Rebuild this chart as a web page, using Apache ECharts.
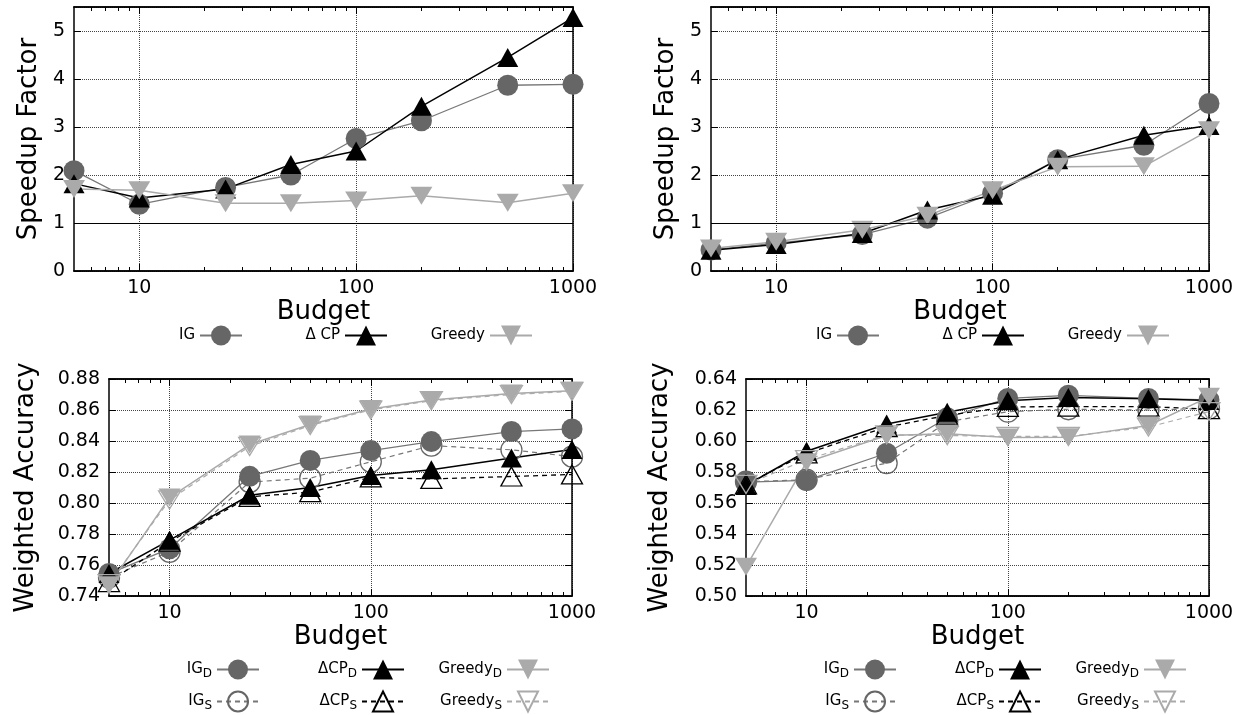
<!DOCTYPE html>
<html><head><meta charset="utf-8">
<script src="https://cdn.jsdelivr.net/npm/echarts@6/dist/echarts.min.js"></script>
<style>html,body{margin:0;padding:0;background:#fff}#c{width:1241px;height:715px}</style>
</head><body><div id="c"></div><script>
// ---------- data ----------
const budgets = [5, 10, 25, 50, 100, 200, 500, 1000];
const xTickLabels = [10, 100, 1000];
const xMinorTicks = [6, 7, 8, 9, 20, 30, 40, 50, 60, 70, 80, 90, 200, 300, 400, 500, 600, 700, 800, 900];

// top-left: speedup factor
const speedLeftIG     = [2.09, 1.39, 1.74, 2.00, 2.76, 3.13, 3.87, 3.89];
const speedLeftCP     = [1.82, 1.52, 1.71, 2.22, 2.50, 3.43, 4.45, 5.28];
const speedLeftGreedy = [1.71, 1.68, 1.41, 1.41, 1.47, 1.57, 1.42, 1.62];

// top-right: speedup factor
const speedRightIG     = [0.44, 0.58, 0.76, 1.10, 1.62, 2.32, 2.62, 3.49];
const speedRightCP     = [0.43, 0.55, 0.78, 1.27, 1.58, 2.32, 2.83, 3.03];
const speedRightGreedy = [0.47, 0.61, 0.86, 1.15, 1.68, 2.17, 2.18, 2.93];

// bottom-left: weighted accuracy
const accLeftIGD     = [0.7545, 0.7705, 0.8172, 0.8275, 0.8338, 0.8396, 0.8461, 0.8478];
const accLeftIGS     = [0.7520, 0.7685, 0.8135, 0.8160, 0.8266, 0.8370, 0.8343, 0.8299];
const accLeftCPD     = [0.7545, 0.7760, 0.8050, 0.8100, 0.8178, 0.8214, 0.8291, 0.8345];
const accLeftCPS     = [0.7490, 0.7750, 0.8040, 0.8070, 0.8165, 0.8155, 0.8171, 0.8184];
const accLeftGreedyD = [0.7470, 0.8035, 0.8377, 0.8506, 0.8606, 0.8664, 0.8707, 0.8724];
const accLeftGreedyS = [0.7480, 0.8020, 0.8365, 0.8500, 0.8600, 0.8660, 0.8700, 0.8720];

// bottom-right: weighted accuracy
const accRightIGD     = [0.5735, 0.5746, 0.5921, 0.6150, 0.6275, 0.6295, 0.6275, 0.6265];
const accRightIGS     = [0.5737, 0.5750, 0.5857, 0.6124, 0.6189, 0.6205, 0.6200, 0.6210];
const accRightCPD     = [0.5713, 0.5934, 0.6110, 0.6185, 0.6260, 0.6280, 0.6272, 0.6262];
const accRightCPS     = [0.5720, 0.5920, 0.6090, 0.6165, 0.6220, 0.6222, 0.6222, 0.6205];
const accRightGreedyD = [0.5188, 0.5863, 0.6035, 0.6046, 0.6023, 0.6025, 0.6100, 0.6285];
const accRightGreedyS = [0.5720, 0.5880, 0.6040, 0.6035, 0.6030, 0.6030, 0.6090, 0.6190];

// ---------- styles / layout ----------
const FONT = 'DejaVu Sans';
const grids = [
  {left: 74,  top: 7,   width: 499, height: 264},
  {left: 711, top: 7,   width: 498, height: 264},
  {left: 109, top: 379, width: 463, height: 217},
  {left: 746, top: 379, width: 463, height: 217}
];
const yCfg = [
  {min: 0, max: 5.5, interval: 1, name: 'Speedup Factor', gap: 32, fmt: v => String(v)},
  {min: 0, max: 5.5, interval: 1, name: 'Speedup Factor', gap: 32, fmt: v => String(v)},
  {min: 0.74, max: 0.88, interval: 0.02, name: 'Weighted Accuracy', gap: 70, fmt: v => v.toFixed(2)},
  {min: 0.50, max: 0.64, interval: 0.02, name: 'Weighted Accuracy', gap: 73, fmt: v => v.toFixed(2)}
];
const TR = 'rgba(0,0,0,0)';
const styles = {
  'IG':       {symbol: 'circle',   size: 21,       rot: 0,   fill: '#666666', border: '#666666', line: '#777777', w: 1.3, dash: 'solid'},
  'Δ CP':     {symbol: 'triangle', size: [21, 19], rot: 0,   fill: '#000000', border: '#000000', line: '#000000', w: 1.5, dash: 'solid'},
  'Greedy':   {symbol: 'triangle', size: [22, 18], rot: 180, fill: '#aaaaaa', border: '#aaaaaa', line: '#aaaaaa', w: 1.5, dash: 'solid'},
  'IG_D':     {symbol: 'circle',   size: 21,       rot: 0,   fill: '#666666', border: '#666666', line: '#777777', w: 1.3, dash: 'solid'},
  'IG_S':     {symbol: 'circle',   size: 21,       rot: 0,   fill: TR,        border: '#666666', line: '#777777', w: 1.2, dash: [5, 4]},
  'ΔCP_D':    {symbol: 'triangle', size: [21, 19], rot: 0,   fill: '#000000', border: '#000000', line: '#000000', w: 1.5, dash: 'solid'},
  'ΔCP_S':    {symbol: 'triangle', size: [21, 19], rot: 0,   fill: TR,        border: '#000000', line: '#000000', w: 1.3, dash: [5, 4]},
  'Greedy_D': {symbol: 'triangle', size: [22, 18], rot: 180, fill: '#aaaaaa', border: '#aaaaaa', line: '#aaaaaa', w: 1.5, dash: 'solid'},
  'Greedy_S': {symbol: 'triangle', size: [22, 18], rot: 180, fill: TR,        border: '#aaaaaa', line: '#aaaaaa', w: 1.2, dash: [5, 4]}
};

const xAxes = [], yAxes = [];
grids.forEach((g, gi) => {
  const baseX = {gridIndex: gi, type: 'log', logBase: 10, min: 5, max: 1000, silent: true};
  xAxes.push(Object.assign({}, baseX, {
    position: 'bottom',
    axisLine: {show: true, onZero: false, lineStyle: {color: '#000', width: 1.5}},
    axisTick: {show: true, inside: true, length: 7, customValues: xTickLabels, lineStyle: {color: '#000', width: 1}},
    axisLabel: {show: true, customValues: xTickLabels, fontSize: 19, color: '#000', fontFamily: FONT, margin: 8,
                formatter: v => String(v)},
    splitLine: {show: true, lineStyle: {type: 'dotted', color: '#444', width: 1}},
    name: 'Budget', nameLocation: 'middle', nameGap: 26,
    nameTextStyle: {fontSize: 26, color: '#000', fontFamily: FONT}
  }));
  xAxes.push(Object.assign({}, baseX, {
    position: 'top',
    axisLine: {show: true, onZero: false, lineStyle: {color: '#000', width: 1.5}},
    axisTick: {show: true, inside: true, length: 7, customValues: xTickLabels, lineStyle: {color: '#000'}},
    axisLabel: {show: false}, splitLine: {show: false}
  }));
  ['bottom', 'top'].forEach(pos => xAxes.push(Object.assign({}, baseX, {
    position: pos,
    axisLine: {show: true, onZero: false, lineStyle: {color: '#000', width: 1.5}},
    axisTick: {show: true, inside: true, length: 4, customValues: xMinorTicks, lineStyle: {color: '#000', width: 1}},
    axisLabel: {show: false}, splitLine: {show: false}
  })));
  const c = yCfg[gi];
  const baseY = {gridIndex: gi, type: 'value', min: c.min, max: c.max, interval: c.interval, silent: true};
  yAxes.push(Object.assign({}, baseY, {
    position: 'left',
    axisLine: {show: true, onZero: false, lineStyle: {color: '#000', width: 1.5}},
    axisTick: {show: true, inside: true, length: 7, lineStyle: {color: '#000'}},
    axisLabel: {show: true, fontSize: 19, color: '#000', fontFamily: FONT, margin: 9,
                formatter: c.fmt, showMaxLabel: gi >= 2, showMinLabel: true},
    splitLine: {show: true, lineStyle: {type: 'dotted', color: '#444', width: 1}},
    name: c.name, nameLocation: 'middle', nameGap: c.gap, nameRotate: 90,
    nameTextStyle: {fontSize: 26, color: '#000', fontFamily: FONT}
  }));
  yAxes.push(Object.assign({}, baseY, {
    position: 'right',
    axisLine: {show: true, onZero: false, lineStyle: {color: '#000', width: 1.5}},
    axisTick: {show: true, inside: true, length: 7, lineStyle: {color: '#000'}},
    axisLabel: {show: false}, splitLine: {show: false}
  }));
});

function mk(name, gi, values, withRef) {
  const s = styles[name];
  const ser = {
    type: 'line', name: name,
    xAxisIndex: gi * 4, yAxisIndex: gi * 2,
    data: budgets.map((b, i) => [b, values[i]]),
    symbol: s.symbol, symbolSize: s.size, symbolRotate: s.rot,
    showAllSymbol: true, clip: false,
    itemStyle: {color: s.fill, borderColor: s.border, borderWidth: s.fill === TR ? 1.3 : 0},
    lineStyle: {color: s.line, width: s.w, type: s.dash},
    emphasis: {disabled: true}, silent: true, animation: false
  };
  if (withRef) {
    ser.markLine = {
      silent: true, symbol: 'none', animation: false,
      label: {show: false},
      lineStyle: {color: '#000', width: 1.2, type: 'solid'},
      data: [{yAxis: 1}]
    };
  }
  return ser;
}

const series = [
  mk('IG', 0, speedLeftIG, true), mk('Δ CP', 0, speedLeftCP), mk('Greedy', 0, speedLeftGreedy),
  mk('IG', 1, speedRightIG, true), mk('Δ CP', 1, speedRightCP), mk('Greedy', 1, speedRightGreedy),
  mk('IG_D', 2, accLeftIGD), mk('IG_S', 2, accLeftIGS), mk('ΔCP_D', 2, accLeftCPD),
  mk('ΔCP_S', 2, accLeftCPS), mk('Greedy_D', 2, accLeftGreedyD), mk('Greedy_S', 2, accLeftGreedyS),
  mk('IG_D', 3, accRightIGD), mk('IG_S', 3, accRightIGS), mk('ΔCP_D', 3, accRightCPD),
  mk('ΔCP_S', 3, accRightCPS), mk('Greedy_D', 3, accRightGreedyD), mk('Greedy_S', 3, accRightGreedyS)
];

const legendPos = [
  ['IG', 998, 325.5], ['Δ CP', 853, 325.5], ['Greedy', 708, 325.5],
  ['IG', 361, 325.5], ['Δ CP', 216, 325.5], ['Greedy', 71, 325.5],
  ['IG_D', 981, 659.5], ['ΔCP_D', 836, 659.5], ['Greedy_D', 691, 659.5],
  ['IG_S', 981, 690.5], ['ΔCP_S', 836, 690.5], ['Greedy_S', 691, 690.5],
  ['IG_D', 344, 659.5], ['ΔCP_D', 199, 659.5], ['Greedy_D', 54, 659.5],
  ['IG_S', 344, 690.5], ['ΔCP_S', 199, 690.5], ['Greedy_S', 54, 690.5]
];
const legends = legendPos.map(([name, right, top]) => ({
  data: [name], right: right, top: top, orient: 'horizontal', align: 'right',
  padding: 0, itemGap: 0, itemWidth: 42, itemHeight: 25, selectedMode: false,
  formatter: n => { const p = n.split('_'); return p.length > 1 ? p[0] + '{s|' + p[1] + '}' : n; },
  textStyle: {fontSize: 15, color: '#000', fontFamily: FONT,
              rich: {s: {fontSize: 12, color: '#000', fontFamily: FONT, padding: [8, 0, 0, 0]}}}
}));

const chart = echarts.init(document.getElementById('c'), null, {renderer: 'canvas'});
chart.setOption({
  animation: false,
  backgroundColor: '#fff',
  textStyle: {fontFamily: FONT},
  grid: grids,
  xAxis: xAxes,
  yAxis: yAxes,
  legend: legends,
  series: series
});
</script></body></html>
